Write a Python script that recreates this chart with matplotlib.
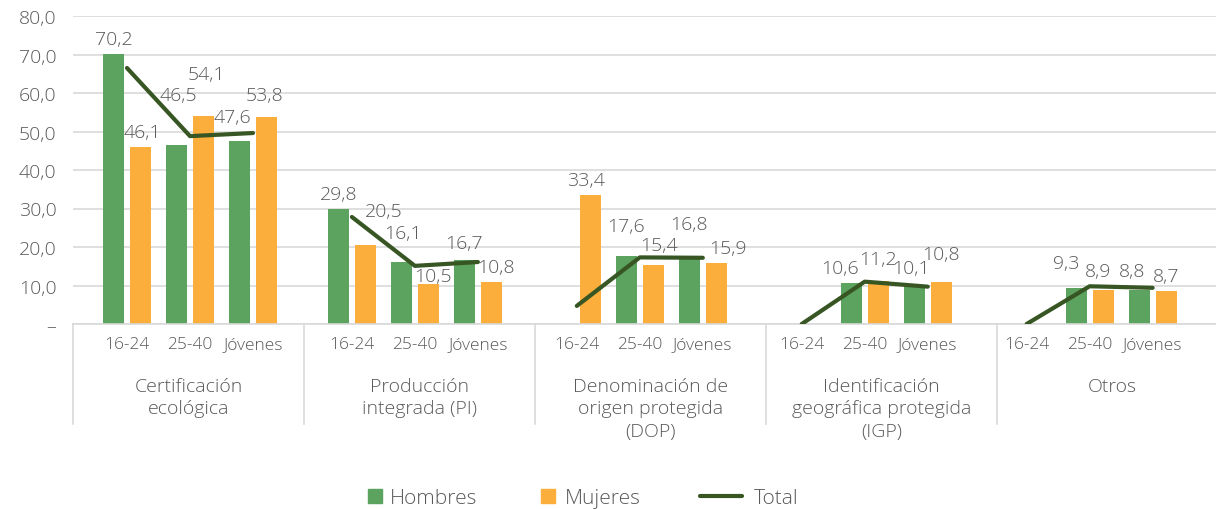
import numpy as np
import matplotlib.pyplot as plt
from matplotlib.lines import Line2D

plt.rcParams['font.family'] = ['Open Sans', 'DejaVu Sans']
plt.rcParams['font.weight'] = 'light'

# data
groups = ['Certificación\necológica', 'Producción\nintegrada (PI)',
          'Denominación de\norigen protegida\n(DOP)',
          'Identificación\ngeográfica protegida\n(IGP)', 'Otros']
ages = ['16-24', '25-40', 'Jóvenes']
nan = np.nan
hombres = [[70.2, 46.5, 47.6], [29.8, 16.1, 16.7], [nan, 17.6, 16.8],
           [nan, 10.6, 10.1], [nan, 9.3, 8.8]]
mujeres = [[46.1, 54.1, 53.8], [20.5, 10.5, 10.8], [33.4, 15.4, 15.9],
           [nan, 11.2, 10.8], [nan, 8.9, 8.7]]
total = [[66.5, 48.8, 49.6], [27.8, 15.1, 16.1], [4.7, 17.3, 17.2],
         [0.0, 11.0, 9.7], [0.0, 9.8, 9.4]]

GREEN = '#5BA35E'
ORANGE = '#FBAE3C'
DARK = '#375623'
GRAY = '#595959'
LIGHT = '#D9D9D9'

# layout (units of one category slot)
group_step = 3.57
sep_step = 3.667
sep0 = -0.857
bar_w = 0.333
bar_off = 0.214

# manual nudges of the data labels, pixels (dx, dy up)
h_nudge = {(0, 1): (2, 35), (0, 2): (-7, 9), (1, 1): (2, 14), (1, 2): (0, 2),
           (2, 1): (0, 15), (2, 2): (0, 20), (3, 1): (-11, 0), (3, 2): (-3, 2),
           (4, 1): (-10, 10), (4, 2): (-7, 4)}
m_nudge = {(0, 0): (2, 0), (0, 1): (3, 27), (0, 2): (-2, 7), (1, 0): (18, 19),
           (1, 1): (5, -7), (1, 2): (5, 0), (2, 0): (-4, 0), (2, 1): (6, 5),
           (2, 2): (12, 0), (3, 1): (0, 7), (3, 2): (0, 13), (4, 1): (-5, 4)}

fig = plt.figure(figsize=(12.16, 5.10), dpi=100)
ax = fig.add_axes([73 / 1216, 185 / 510, 1155 / 1216, 308 / 510])
ax.set_xlim(sep0, sep0 + 1155 / 63)
ax.set_ylim(0, 80)

x = np.array([[g * group_step + c for c in range(3)] for g in range(len(groups))])
H = np.array(hombres)
M = np.array(mujeres)

ax.bar(x.ravel() - bar_off, H.ravel(), bar_w, color=GREEN, zorder=2)
ax.bar(x.ravel() + bar_off, M.ravel(), bar_w, color=ORANGE, zorder=2)
for g in range(len(groups)):
    ax.plot(x[g], total[g], color=DARK, lw=3, solid_capstyle='round', zorder=3)


def fmt(v):
    return f'{v:.1f}'.replace('.', ',')


for vals, off, nudge in ((H, -bar_off, h_nudge), (M, bar_off, m_nudge)):
    for g in range(len(groups)):
        for c in range(3):
            v = vals[g, c]
            if np.isnan(v):
                continue
            dx, dy = nudge.get((g, c), (0, 0))
            ax.annotate(fmt(v), (x[g, c] + off, v), xytext=(dx, 15 + dy),
                        textcoords='offset pixels', ha='center', va='center',
                        fontsize=14, color=GRAY, zorder=4)

# y axis
ticks = list(range(0, 81, 10))
ax.set_yticks(ticks)
ax.set_yticklabels(['–'] + [fmt(t) for t in ticks[1:]])
ax.tick_params(axis='y', length=0, pad=12, labelsize=14, labelcolor=GRAY)
ax.set_xticks([])
ax.yaxis.grid(True, color=LIGHT, lw=1.2)
ax.set_axisbelow(True)
for s in ('top', 'right', 'left'):
    ax.spines[s].set_visible(False)
ax.spines['bottom'].set_color(LIGHT)
ax.spines['bottom'].set_linewidth(1.2)

# multi-level category axis
tr = ax.get_xaxis_transform()
for g in range(len(groups)):
    for c in range(3):
        ax.text(x[g, c], -20 / 308, ages[c], transform=tr, ha='center',
                va='center', fontsize=12.5, color=GRAY)
    left = sep0 + g * sep_step
    ax.text(left + sep_step / 2, -53 / 308, groups[g], transform=tr,
            ha='center', va='top', fontsize=14, color=GRAY, linespacing=1.32)
for k in range(len(groups) + 1):
    xs = sep0 + k * sep_step
    ax.plot([xs, xs], [0, -100 / 308], transform=tr, clip_on=False,
            color=LIGHT, lw=1.2)

# legend
entries = [
    (Line2D([], [], marker='s', ls='none', markersize=9.4, color=GREEN), 'Hombres', 368, 0.7, 0.36),
    (Line2D([], [], marker='s', ls='none', markersize=9.4, color=ORANGE), 'Mujeres', 541, 0.7, 0.45),
    (Line2D([], [], color=DARK, lw=3, solid_capstyle='round'), 'Total', 700, 2.0, 0.6),
]
for h, lab, px, hl, pad in entries:
    fig.legend([h], [lab], loc='center left', bbox_to_anchor=(px / 1216, 11 / 510),
               frameon=False, fontsize=15, labelcolor=GRAY, handlelength=hl,
               handletextpad=pad, borderpad=0, borderaxespad=0)

fig.savefig('out.png', dpi=100)
